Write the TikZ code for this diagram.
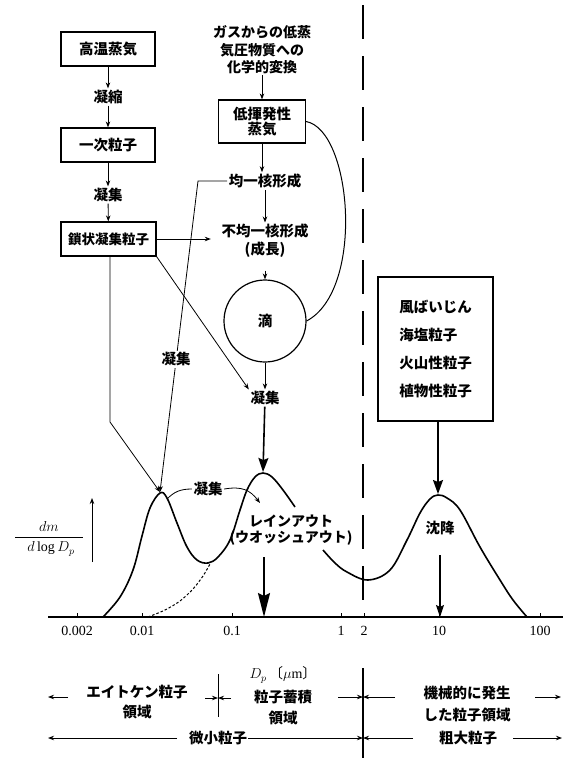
\documentclass[tikz,border=0pt]{standalone}
\usepackage{fontspec}
\setmainfont{Liberation Serif}
\newfontfamily\jp{Noto Sans CJK JP}
\usetikzlibrary{arrows.meta}
\begin{document}
\begin{tikzpicture}[x=1pt,y=-1pt,
  jf/.style={font=\jp\bfseries\fontsize{14.5}{17}\selectfont},
  numf/.style={font=\fontsize{14}{16}\selectfont, inner sep=1pt},
  box/.style={draw, line width=1.2pt, inner sep=0pt, jf},
  lab/.style={jf, inner sep=1.5pt, fill=white},
  arr/.style={line width=0.8pt, -{Stealth[length=6pt,width=4.5pt]}},
  bigarr/.style={line width=1.6pt, -{Stealth[length=14pt,width=10pt,inset=2pt]}},
  curve/.style={line width=1.6pt}]
\useasboundingbox (0,0) rectangle (566,758);

% ---------- left column ----------
\node[box, minimum width=94pt, minimum height=34pt] (b1) at (108,49) {高温蒸気};
\node[lab] (l1) at (108,97) {凝縮};
\node[box, minimum width=94pt, minimum height=34pt] (b2) at (108,145) {一次粒子};
\node[lab] (l2) at (108,195) {凝集};
\node[box, minimum width=95pt, minimum height=34pt, font=\jp\bfseries\fontsize{13.5}{16}\selectfont] (b3) at (108.5,239) {鎖状凝集粒子};
\draw[arr] (b1) -- (l1);
\draw[arr] (l1) -- (b2);
\draw[arr] (b2) -- (l2);
\draw[arr] (l2) -- (b3);

% ---------- middle column ----------
\node[jf, align=center, font=\jp\bfseries\fontsize{14}{17.5}\selectfont, inner sep=1pt] (gas) at (262,50) {ガスからの低蒸\\気圧物質への\\化学的変換};
\node[box, minimum width=87pt, minimum height=43pt, align=center, font=\jp\bfseries\fontsize{14.5}{15.5}\selectfont] (b4) at (262,121.5) {低揮発性\\蒸気};
\node[lab] (n1) at (265,181) {均一核形成};
\node[lab, align=center, font=\jp\bfseries\fontsize{14.5}{18}\selectfont] (n2) at (265,241) {不均一核形成\\(成長)};
\node[draw, circle, line width=1.2pt, minimum size=82pt, inner sep=0pt, jf] (c) at (265,321) {滴};
\node[lab] (l3) at (265,398) {凝集};

\draw[arr] (gas) -- (b4);
\draw[arr] (b4.south) -- (b4.south |- n1.north);
\draw[arr] (n1.south) -- (n2.north);
\draw[arr, shorten <=11pt] (n2.south) -- (c.north);
\draw[arr] (c) -- (l3);
\draw[line width=1pt] (b4.east) .. controls (352,130) and (365,290) .. (c.east);

% ---------- peaks ----------
\coordinate (pL) at (160,492);
\coordinate (pM) at (263,472);
\coordinate (pR) at (438,494);

\draw[bigarr] (l3) -- (pM);
\draw[arr, shorten >=9pt] (b3.east) -- (b3.east -| n2.west);
\coordinate (kL) at (110,422);
\draw[arr] (b3.south -| kL) -- (kL) -- (pL);
\draw[arr] (b3.south east) -- (l3.north west);
\coordinate (kU) at (198,181);
\draw[arr] (n1.west) -- (kU) -- node[lab, pos=0.573] (l4) {凝集} (pL);

% ---------- right box ----------
\node[box, minimum width=115pt, minimum height=144pt, align=left, font=\jp\bfseries\fontsize{14.5}{28}\selectfont] (rb) at (435.5,349) {風ばいじん\\海塩粒子\\火山性粒子\\植物性粒子};
\draw[bigarr] (rb.south -| pR) -- (pR);

% ---------- dashed vertical ----------
\coordinate (vT) at (363,5);
\coordinate (vM) at (363,612);
\coordinate (vM2) at (363,668);
\coordinate (vB) at (363,758);
\draw[line width=1.1pt, dash pattern=on 34pt off 17pt] (vT) -- (vM);
\draw[line width=1.1pt] (vM2) -- (vB);

% ---------- distribution curve ----------
\draw[curve] plot[smooth, tension=0.6] coordinates {(103,617) (120,597) (133,570) (142,536) (150,508) (160,493) (167,498) (177,523) (187,547) (197,560) (208,563) (218,557) (230,540) (240,510) (247,490) (255,477) (263,473) (272,477) (283,490) (295,507)};
\draw[curve] plot[smooth, tension=0.6] coordinates {(323,550) (335,563) (347,572) (368,580) (390,570) (407,540) (420,513) (430,499) (438,495) (447,498) (460,510) (480,547) (500,580) (513,600) (527,617)};
\draw[line width=1pt, dash pattern=on 2.5pt off 2pt] plot[smooth] coordinates {(148,617) (165,610) (180,601) (193,589) (203,576) (210,564)};

% aggregation label between peaks
\node[lab] (lm) at (208,489) {凝集};
\coordinate (kLP) at (167,499);
\draw[line width=0.8pt] (lm.west) .. controls (180,489) and (174,492) .. (kLP);
\coordinate (kMA) at (260,503);
\draw[arr] (lm.east) .. controls (242,486) and (250,490) .. (kMA);

\node[jf, align=center, font=\jp\bfseries\fontsize{14}{16}\selectfont, inner sep=1pt] (ro) at (291,530) {レインアウト\\(ウオッシュアウト)};
\coordinate (ra1) at (264,557);
\coordinate (ra2) at (264,617);
\draw[line width=2pt, -{Stealth[length=24pt,width=12pt,inset=3pt]}] (ra1) -- (ra2);

\node[jf, inner sep=1pt] (sd) at (440,528) {沈降};
\coordinate (sa1) at (440,555);
\coordinate (sa2) at (440,617);
\draw[line width=1.1pt, -{Stealth[length=12pt,width=8pt,inset=2pt]}] (sa1) -- (sa2);

% ---------- axis ----------
\coordinate (axL) at (48,617);
\coordinate (axR) at (563,617);
\draw[line width=1.5pt] (axL) -- (axR);
\foreach \x/\t [count=\i] in {77/0.002,142/0.01,232/0.1,341/1,364/2,439/10,540/100} {
  \draw[line width=0.8pt] (\x,617) -- (\x,613);
  \node[numf] (tk\i) at (\x,631) {\t};
}

% y label
\node[numf] (ydm) at (49,526) {$dm$};
\node[numf] (ydl) at (51,549) {$d\log D_p$};
\coordinate (ybL) at (15,537);
\coordinate (ybR) at (83,537);
\draw[line width=0.8pt] (ybL) -- (ybR);
\coordinate (yaB) at (92,562);
\coordinate (yaT) at (92,498);
\draw[arr] (yaB) -- (yaT);

% ---------- bottom ranges ----------
\coordinate (a1s) at (68,697);
\coordinate (a1e) at (48,697);
\draw[arr] (a1s) -- (a1e);
\node[jf, align=center, font=\jp\bfseries\fontsize{14.5}{20}\selectfont, inner sep=1pt] (ait) at (137,702) {エイトケン粒子\\領域};

\coordinate (m1t) at (218,674);
\coordinate (m1b) at (218,717);
\coordinate (m1c) at (218,698);
\coordinate (m1l) at (205,698);
\coordinate (m1r) at (231,698);
\draw[line width=0.8pt] (m1t) -- (m1b);
\draw[arr] (m1l) -- (m1c);
\draw[arr] (m1r) -- (m1c);

\node[numf] (dp) at (283,675) {$D_p$\,{\jp 〔}$\mu$m{\jp 〕}};
\node[jf, align=center, font=\jp\bfseries\fontsize{14.5}{21.5}\selectfont, inner sep=1pt] (acc) at (283,707.5) {粒子蓄積\\領域};

\coordinate (m2c) at (363,697);
\coordinate (m2l) at (338,697);
\coordinate (m2r) at (395,697);
\draw[arr] (m2l) -- (m2c);
\draw[arr] (m2r) -- (m2c);

\node[jf, align=center, font=\jp\bfseries\fontsize{14.5}{22}\selectfont, inner sep=1pt] (mech) at (467,704) {機械的に発生\\した粒子領域};
\coordinate (a2s) at (535,697);
\coordinate (a2e) at (561,697);
\draw[arr] (a2s) -- (a2e);

\node[jf, inner sep=1pt] (fine) at (218,738) {微小粒子};
\coordinate (f1) at (177,738);
\coordinate (f2) at (48,738);
\draw[arr] (f1) -- (f2);
\coordinate (m3c) at (363,738);
\coordinate (m3r) at (413,738);
\draw[arr] (fine.east) -- (m3c);
\draw[arr] (m3r) -- (m3c);

\node[jf, inner sep=1pt] (coarse) at (468,738) {粗大粒子};
\coordinate (c2s) at (513,738);
\coordinate (c2e) at (562,738);
\draw[arr] (c2s) -- (c2e);
\end{tikzpicture}
\end{document}
